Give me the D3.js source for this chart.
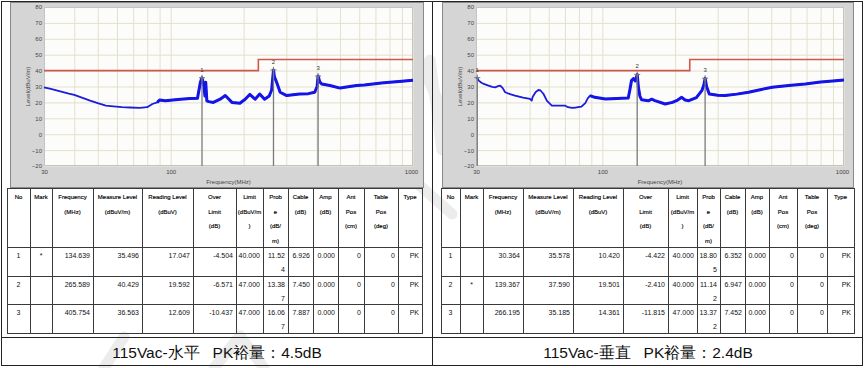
<!DOCTYPE html>
<html>
<head>
<meta charset="utf-8">
<script src="https://cdn.jsdelivr.net/npm/d3@7"></script>
<style>
  html, body { margin: 0; padding: 0; background: #fff; }
  svg text { font-family: 'Liberation Sans', Arial, sans-serif; }
</style>
</head>
<body>
<div id="main"></div>
<script>
'use strict';
// - - - - - - - - - -

// data
const yTicks = [80, 70, 60, 50, 40, 30, 20, 10, 0, -10, -20];
const xGridFreqs = [30, 40, 50, 60, 70, 80, 90, 100, 200, 300, 400, 500, 600, 700, 800, 900, 1000];
const xTickLabels = [30, 100, 1000];
const limitLine = [[30, 40], [230, 40], [230, 47], [1000, 47]];

// trace, [MHz, dBuV/m]
const traceH = [
  [30, 29.5], [32, 28.5], [35, 27], [38, 25.5], [40, 24.7], [43, 23], [46.5, 21.1], [50, 19.5],
  [54, 18], [58, 17.5], [63, 17], [68, 16.8], [74.5, 16.5], [80, 17], [84, 19], [88, 20],
  [90, 21.5], [95, 21], [102, 21.5], [110, 22], [120, 22.4], [129, 22.6], [132.6, 32.7],
  [134.6, 35.5], [137, 30.6], [138.5, 24], [139.5, 32.7], [141, 21], [143.7, 20.5], [150, 20],
  [160, 22], [168, 24.3], [179, 20], [193, 19.5], [203, 22], [212, 25], [223, 22], [233, 25.3],
  [244, 22], [255, 24], [261, 27.8], [265.6, 40.4], [268, 36], [272, 33.7], [283, 26.4],
  [301, 24.3], [320, 24.8], [341, 25.3], [370, 25.5], [393, 26.4], [402, 30], [405.8, 36.6],
  [412, 33], [420, 31.6], [454, 30.6], [500, 29], [540, 29.8], [585, 30.6], [630, 31],
  [684, 31.6], [740, 32.2], [804, 32.7], [900, 33.3], [1000, 34]
];
const traceV = [
  [30, 35.2], [30.36, 35.6], [30.8, 33.7], [31.5, 32.5], [32.3, 31.6], [33.8, 30.6], [35, 29.8],
  [36, 29.5], [37, 30.2], [37.8, 30.6], [38.7, 29], [39.6, 26.4], [41.5, 25.2], [43.5, 24.3],
  [47, 23], [50.2, 22.2], [51, 21.1], [51.5, 23.5], [53, 26.5], [54.4, 27.8], [55.5, 27.5],
  [57.1, 25.3], [59, 21], [61.8, 18], [66, 18], [70, 18], [72, 17], [75, 16.5], [78, 16.8],
  [82, 17.4], [85, 19.5], [87, 22.5], [89, 24.3], [93, 23.2], [103, 22.2], [115, 22.5],
  [128, 22.8], [130, 28], [132, 33.7], [134.5, 35], [137, 33.5], [139.4, 37.6], [141, 29.5],
  [143, 24], [145.4, 21.6], [155, 21], [160, 22], [165, 21.1], [182, 19], [195, 20], [205, 21.5],
  [213, 23.2], [220, 21.5], [228, 21.1], [245, 23], [258, 27.4], [263, 31], [266.2, 35.2],
  [270, 30], [277, 25.3], [300, 24.5], [322, 24.3], [360, 25.2], [403, 26.4], [450, 28],
  [504, 29.5], [590, 30.6], [692, 31.6], [800, 32.8], [900, 33.5], [1000, 34.1]
];

const tableHeaders = [
  ['No'], ['Mark'], ['Frequency', '(MHz)'], ['Measure Level', '(dBuV/m)'], ['Reading Level', '(dBuV)'],
  ['Over', 'Limit', '(dB)'], ['Limit', '(dBuV/m', ')'], ['Prob', 'e', '(dB/', 'm)'], ['Cable', '(dB)'],
  ['Amp', '(dB)'], ['Ant', 'Pos', '(cm)'], ['Table', 'Pos', '(deg)'], ['Type']
];
const rowsH = [
  ['1', '*', '134.639', '35.496', '17.047', '-4.504', '40.000', '11.524', '6.926', '0.000', '0', '0', 'PK'],
  ['2', '', '265.589', '40.429', '19.592', '-6.571', '47.000', '13.387', '7.450', '0.000', '0', '0', 'PK'],
  ['3', '', '405.754', '36.563', '12.609', '-10.437', '47.000', '16.067', '7.887', '0.000', '0', '0', 'PK']
];
const rowsV = [
  ['1', '', '30.364', '35.578', '10.420', '-4.422', '40.000', '18.805', '6.352', '0.000', '0', '0', 'PK'],
  ['2', '*', '139.367', '37.590', '19.501', '-2.410', '40.000', '11.142', '6.947', '0.000', '0', '0', 'PK'],
  ['3', '', '266.195', '35.185', '14.361', '-11.815', '47.000', '13.372', '7.452', '0.000', '0', '0', 'PK']
];
const captions = ['115Vac-水平   PK裕量：4.5dB', '115Vac-垂直   PK裕量：2.4dB'];

// configuration
let
  svg = undefined,
  canvas = {
    context: '#main',
    width: 865,
    height: 368
  },
  table = {
    lines: [188, 247, 276, 304, 333],
    headerY: 199,
    headerStep: 14.5,
    wrapStep: 14
  },
  // faint logo watermark behind the page
  watermark = [
    [[398, 14], [446, 118]],
    [[430, 60], [442, 150]],
    [[418, 184], [452, 214]],
    [[104, 368], [124, 337]],
    [[214, 368], [240, 336]],
    [[240, 336], [264, 368]]
  ],
  panels = [
    {
      frame: { x0: 10, y0: 2, x1: 423, y1: 187 },
      plot: { x0: 44, x1: 413, y0: 7, y1: 166 },
      cols: [7, 30, 52, 93, 142, 193, 236, 263, 288, 313, 338, 364, 398, 422],
      trace: traceH,
      rows: rowsH,
      caption: captions[0],
      captionX: 217
    },
    {
      frame: { x0: 442, y0: 2, x1: 853, y1: 187 },
      plot: { x0: 476, x1: 844, y0: 7, y1: 166 },
      cols: [441, 460, 483, 523, 573, 623, 668, 697, 720, 745, 769, 797, 827, 854],
      trace: traceV,
      rows: rowsV,
      caption: captions[1],
      captionX: 648
    }
  ];

// methods
function setCanvas(domContext) {
  svg = d3.select(domContext)
    .append('svg')
    .attr('width', canvas.width)
    .attr('height', canvas.height)
    .style('display', 'block');
}

function drawWatermark() {
  svg.append('g')
    .selectAll('line')
    .data(watermark)
    .enter()
    .append('line')
    .attr('x1', d => d[0][0]).attr('y1', d => d[0][1])
    .attr('x2', d => d[1][0]).attr('y2', d => d[1][1])
    .attr('stroke', '#ececec').attr('stroke-width', 11).attr('stroke-linecap', 'round');
}

function drawChart(p) {
  let
    g = svg.append('g'),
    xScale = d3.scaleLog().domain([30, 1000]).range([p.plot.x0, p.plot.x1]),
    yScale = d3.scaleLinear().domain([-20, 80]).range([p.plot.y1, p.plot.y0]),
    w = p.plot.x1 - p.plot.x0,
    h = p.plot.y1 - p.plot.y0;

  // grey frame and plot area
  g.append('rect')
    .attr('x', p.frame.x0 + 0.5).attr('y', p.frame.y0 + 0.5)
    .attr('width', p.frame.x1 - p.frame.x0).attr('height', p.frame.y1 - p.frame.y0)
    .attr('fill', '#d5d5d5').attr('stroke', '#8a8a8a');
  g.append('rect')
    .attr('x', p.plot.x0).attr('y', p.plot.y0)
    .attr('width', w).attr('height', h)
    .attr('fill', '#fcfcfa');

  // grid
  g.append('g')
    .attr('transform', 'translate(0,' + p.plot.y1 + ')')
    .call(d3.axisBottom(xScale).tickValues(xGridFreqs).tickSize(-h).tickFormat(''))
    .call(a => a.select('.domain').remove())
    .call(a => a.selectAll('line').attr('stroke', '#e4e0cf'));
  g.append('g')
    .attr('transform', 'translate(' + p.plot.x0 + ',0)')
    .call(d3.axisLeft(yScale).tickValues(yTicks).tickSize(-w).tickFormat(''))
    .call(a => a.select('.domain').remove())
    .call(a => a.selectAll('line').attr('stroke', '#e4e0cf'));

  g.append('rect')
    .attr('x', p.plot.x0 + 0.5).attr('y', p.plot.y0 + 0.5)
    .attr('width', w - 1).attr('height', h - 1)
    .attr('fill', 'none').attr('stroke', '#c4c4c4');

  // tick labels
  g.append('g')
    .attr('transform', 'translate(' + p.plot.x0 + ',0)')
    .call(d3.axisLeft(yScale).tickValues(yTicks).tickSize(0).tickPadding(2))
    .call(a => a.select('.domain').remove())
    .call(a => a.selectAll('text').attr('font-size', 6).attr('fill', '#444')
      .attr('font-family', "'Liberation Sans', Arial, sans-serif"));
  g.append('g')
    .attr('transform', 'translate(0,' + p.plot.y1 + ')')
    .call(d3.axisBottom(xScale).tickValues(xTickLabels).tickSize(0).tickPadding(4).tickFormat(d3.format('d')))
    .call(a => a.select('.domain').remove())
    .call(a => a.selectAll('text').attr('font-size', 6).attr('fill', '#444')
      .attr('font-family', "'Liberation Sans', Arial, sans-serif"))
    .call(a => a.selectAll('.tick').filter(d => d === 1000).select('text').attr('dx', -2));

  g.append('text')
    .attr('x', (p.plot.x0 + p.plot.x1) / 2).attr('y', p.frame.y1 - 3)
    .attr('text-anchor', 'middle').attr('font-size', 6).attr('fill', '#444')
    .text('Frequency(MHz)');
  g.append('text')
    .attr('transform', 'translate(' + (p.plot.x0 - 14) + ',' + ((p.plot.y0 + p.plot.y1) / 2) + ') rotate(-90)')
    .attr('text-anchor', 'middle').attr('font-size', 6).attr('fill', '#444')
    .text('Level(dBuV/m)');

  // limit line
  let line = d3.line().x(d => xScale(d[0])).y(d => yScale(d[1]));
  g.append('path')
    .datum(limitLine)
    .attr('d', line)
    .attr('fill', 'none').attr('stroke', '#d0574c').attr('stroke-width', 1.6);

  // trace: thin below 90 MHz, wider noisy band above
  g.append('path')
    .datum(p.trace)
    .attr('d', line)
    .attr('fill', 'none').attr('stroke', '#1c1cdc').attr('stroke-width', 1.8)
    .attr('stroke-linejoin', 'round');
  g.append('path')
    .datum(p.trace.filter(d => d[0] >= 88))
    .attr('d', line)
    .attr('fill', 'none').attr('stroke', '#1414e8').attr('stroke-width', 3)
    .attr('stroke-linejoin', 'round');

  // markers from the table rows
  let markers = p.rows.map(r => ({ no: r[0], f: +r[2], v: +r[3] }));
  let mk = g.selectAll('.marker').data(markers).enter().append('g').attr('class', 'marker');
  mk.append('line')
    .attr('x1', d => xScale(d.f)).attr('x2', d => xScale(d.f))
    .attr('y1', d => yScale(d.v)).attr('y2', p.plot.y1)
    .attr('stroke', '#7a7a7a').attr('stroke-width', 1.3);
  mk.append('path')
    .attr('d', d => {
      let cx = xScale(d.f), cy = yScale(d.v);
      return 'M' + (cx - 3) + ',' + cy + 'H' + (cx + 3) + 'M' + cx + ',' + (cy - 3) + 'V' + (cy + 3);
    })
    .attr('stroke', '#777').attr('stroke-width', 1);
  mk.append('text')
    .attr('x', d => xScale(d.f)).attr('y', d => yScale(d.v) - 6)
    .attr('text-anchor', 'middle').attr('font-size', 6).attr('fill', '#333')
    .text(d => d.no);
}

function drawTable(p) {
  let
    g = svg.append('g'),
    cols = p.cols,
    lines = table.lines;

  // header text
  tableHeaders.forEach((hd, i) => {
    hd.forEach((t, k) => {
      g.append('text')
        .attr('x', (cols[i] + cols[i + 1]) / 2)
        .attr('y', table.headerY + k * table.headerStep)
        .attr('text-anchor', 'middle').attr('font-size', 6).attr('fill', '#000')
        .attr('stroke', '#000').attr('stroke-width', 0.15)
        .text(t);
    });
  });

  // rows
  p.rows.forEach((r, j) => {
    let baseY = (lines[j + 1] + 10) + 0.5;
    r.forEach((t, i) => {
      let center = i < 2,
        parts = (i === 7) ? [t.slice(0, 5), t.slice(5)] : [t];
      parts.forEach((s, k) => {
        g.append('text')
          .attr('x', center ? (cols[i] + cols[i + 1]) / 2 : cols[i + 1] - 3)
          .attr('y', baseY + k * table.wrapStep)
          .attr('text-anchor', center ? 'middle' : 'end')
          .attr('font-family', "'Liberation Serif', 'Times New Roman', serif")
          .attr('font-size', 7).attr('fill', '#111')
          .text(s);
      });
    });
  });

  // grid lines
  lines.forEach(y => {
    g.append('line')
      .attr('x1', cols[0]).attr('x2', cols[cols.length - 1])
      .attr('y1', y + 0.5).attr('y2', y + 0.5)
      .attr('stroke', '#3a3a3a').attr('stroke-width', 1);
  });
  cols.forEach(x => {
    g.append('line')
      .attr('x1', x + 0.5).attr('x2', x + 0.5)
      .attr('y1', lines[0]).attr('y2', lines[lines.length - 1] + 1)
      .attr('stroke', '#3a3a3a').attr('stroke-width', 1);
  });

  // caption
  g.append('text')
    .attr('x', p.captionX).attr('y', 358)
    .attr('text-anchor', 'middle')
    .attr('font-family', "'Noto Sans CJK SC', 'Noto Sans', sans-serif")
    .attr('font-size', 15.5).attr('fill', '#111')
    .style('white-space', 'pre')
    .text(p.caption);
}

function drawFrame() {
  let g = svg.append('g').attr('stroke', '#222').attr('fill', 'none');
  g.append('rect').attr('x', 1.5).attr('y', 1.5).attr('width', 861).attr('height', 364);
  g.append('line').attr('x1', 432.5).attr('x2', 432.5).attr('y1', 1.5).attr('y2', 365.5);
  g.append('line').attr('x1', 1.5).attr('x2', 862.5).attr('y1', 337.5).attr('y2', 337.5);
}

// control
setCanvas(canvas.context);
drawWatermark();
panels.forEach(p => {
  drawChart(p);
  drawTable(p);
});
drawFrame();

// - - - - - - - - - -
</script>
</body>
</html>
